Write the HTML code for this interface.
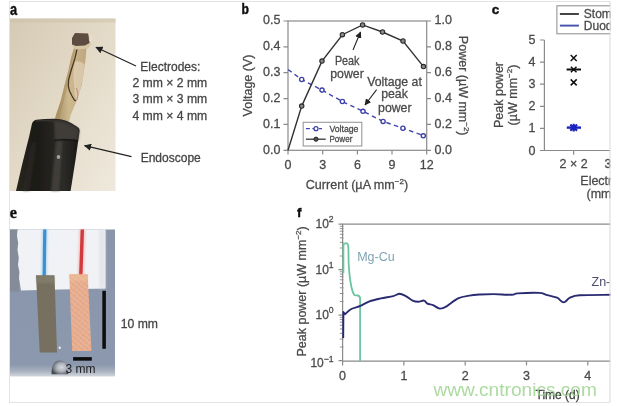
<!DOCTYPE html>
<html><head><meta charset="utf-8"><title>Figure</title>
<style>
html,body{margin:0;padding:0;background:#fff;}
body{width:617px;height:406px;overflow:hidden;position:relative;}
svg{position:absolute;left:0;top:0;display:block;}
text{font-family:"Liberation Sans","DejaVu Sans",sans-serif;}
.tk{stroke:#4a4a4a;stroke-width:0.28px;}
.tk2{stroke:#444;stroke-width:0.28px;}
</style></head><body>
<svg width="617" height="406" viewBox="0 0 617 406">
<defs>
  <linearGradient id="bgA" x1="0" y1="0" x2="1" y2="1">
    <stop offset="0" stop-color="#d5cab4"/>
    <stop offset="0.5" stop-color="#e3dac8"/>
    <stop offset="1" stop-color="#efe9dd"/>
  </linearGradient>
  <linearGradient id="tube" x1="0" y1="0" x2="1" y2="0">
    <stop offset="0" stop-color="#2a2620"/>
    <stop offset="0.3" stop-color="#1c1a17"/>
    <stop offset="0.75" stop-color="#2c2a27"/>
    <stop offset="1" stop-color="#1a1816"/>
  </linearGradient>
  <linearGradient id="stick" x1="0" y1="0" x2="1" y2="0">
    <stop offset="0" stop-color="#a48a62"/>
    <stop offset="0.45" stop-color="#cdb98f"/>
    <stop offset="1" stop-color="#bfa67e"/>
  </linearGradient>
  <linearGradient id="bgE" x1="0" y1="0" x2="0" y2="1">
    <stop offset="0" stop-color="#8a95a9"/>
    <stop offset="0.92" stop-color="#8b98ae"/>
    <stop offset="0.965" stop-color="#a9b2c0"/>
    <stop offset="1" stop-color="#d3d7de"/>
  </linearGradient>
  <radialGradient id="dome" cx="0.6" cy="0.5" r="0.6">
    <stop offset="0" stop-color="#d4d8de"/>
    <stop offset="0.45" stop-color="#b4b9c1"/>
    <stop offset="0.8" stop-color="#767b84"/>
    <stop offset="1" stop-color="#44484e"/>
  </radialGradient>
  <pattern id="copper" width="4" height="4" patternUnits="userSpaceOnUse" patternTransform="rotate(40)">
    <rect width="4" height="4" fill="#e5a98b"/>
    <path d="M0,1 L4,1" stroke="#f0c0a4" stroke-width="0.9" opacity="0.8"/>
    <path d="M1,0 L1,4" stroke="#eab59a" stroke-width="0.9" opacity="0.6"/>
    <circle cx="3" cy="3" r="0.6" fill="#d28c70" opacity="0.6"/>
  </pattern>
  <filter id="gblur" filterUnits="userSpaceOnUse" x="0" y="0" width="617" height="406"><feGaussianBlur stdDeviation="0.42"/></filter>
  <filter id="blur1" filterUnits="userSpaceOnUse" x="0" y="0" width="617" height="406"><feGaussianBlur stdDeviation="0.6"/></filter>
  <filter id="blur2" filterUnits="userSpaceOnUse" x="0" y="0" width="617" height="406"><feGaussianBlur stdDeviation="1.2"/></filter>
  <marker id="ah" viewBox="0 0 10 10" refX="9" refY="5" markerWidth="6" markerHeight="6" orient="auto-start-reverse">
    <path d="M0,0 L10,5 L0,10 z" fill="#222"/>
  </marker>
</defs>
<g filter="url(#gblur)">

<!-- outer frame -->
<rect x="9.5" y="1.5" width="600.5" height="401" fill="#fff" stroke="#e3e3e3" stroke-width="1"/>

<!-- ============ PANEL A ============ -->
<text x="10" y="14.7" font-size="16" font-weight="bold" fill="#111" stroke="#111" stroke-width="0.45" textLength="7.1" lengthAdjust="spacingAndGlyphs">a</text>
<g id="photoA">
  <rect x="10" y="18.5" width="105.5" height="172.5" fill="url(#bgA)"/>
  <rect x="10" y="18.5" width="105.5" height="4" fill="#cbbfa8" opacity="0.45" filter="url(#blur1)"/>
  <!-- stick -->
  <path d="M74,48 L71,58 L68.5,70 L64.6,85 L61,100 L56,115 L54.5,122 L69,122 L70.7,115 L76.9,100 L81.8,85 L84,70 L85.5,60 L86.5,48 Z" fill="url(#stick)" filter="url(#blur1)"/>
  <path d="M74,48 L71,58 L68.5,70 L64.6,85 L61,100 L56,115 L54.5,122 L58,122 L61,112 L64,100 L67,88 L70,75 L73,60 L76,48 Z" fill="#a8905f" opacity="0.6" filter="url(#blur1)"/>
  <path d="M75,62 Q79,60 84.5,64 L83.5,72 Q83,80 80.5,88 Q79,95 76.5,100 Q74,96 74.5,90 Q73,80 73.5,70 Z" fill="#e6dac2" opacity="0.6" filter="url(#blur1)"/>
  <path d="M77,49 L75,58 L72.5,66 L70.7,72 L68.6,80 L68.3,86 L69.5,91 L72,96 L74.4,100 L76,101" stroke="#4a3826" stroke-width="1.3" fill="none" filter="url(#blur1)"/>
  <path d="M76.5,88 L78,94 L77,100" stroke="#b86a58" stroke-width="1.1" fill="none" opacity="0.6" filter="url(#blur1)"/>
  <!-- electrode tip -->
  <path d="M72.5,46 L72,38 L75.5,33.2 L88.5,33.8 L90.5,37 L90.5,45 L88,48.5 L75,49.5 Z" fill="#d6c6a6" filter="url(#blur1)"/>
  <path d="M72,44.5 L72,38 L75,33 L88,33.5 L89.5,37 L89.5,43 L85,45.5 L76,46 Z" fill="#5c4d40" filter="url(#blur1)"/>
  <path d="M88.5,34 L91.5,36 L91.5,42 L89,41 Z" fill="#eee4d2" opacity="0.8" filter="url(#blur1)"/>
  <!-- endoscope -->
  <path d="M36,119.8 Q32.5,120.8 31.8,124.5 L29.2,136.3 L22.1,164.5 L16,191 L70.6,191 L75.7,158.5 L79.6,131 Q80,128.5 77.5,127 Q66,118.5 54,118.8 Q44,119 36.5,119.8 Z" fill="url(#tube)" filter="url(#blur1)"/>
  <path d="M54,120.5 Q68,121 77,127.8 Q79.5,129 79.2,132 L78,140.5 Q66,139 55,140.5 Z" fill="#4a4541" opacity="0.75" filter="url(#blur2)"/>
  <path d="M36,121 Q58,118.5 78,128.5" stroke="#3a3632" stroke-width="1.4" fill="none" opacity="0.8" filter="url(#blur1)"/>
  <path d="M55,140.3 Q67,139 78,141" stroke="#0e0d0c" stroke-width="1.4" fill="none" opacity="0.8" filter="url(#blur1)"/>
  <path d="M56,141 L62.5,141 L59.5,191 L51,191 Z" fill="#4a4642" opacity="0.75" filter="url(#blur2)"/>
  <path d="M31.5,142 L36.5,142 L29.5,191 L22.5,191 Z" fill="#2e2b28" opacity="0.6" filter="url(#blur2)"/>
  <ellipse cx="58.5" cy="157" rx="1.8" ry="2.1" fill="#a8a196" filter="url(#blur1)"/>
</g>
<line x1="136" y1="66" x2="96" y2="47.3" stroke="#222" stroke-width="1.2" marker-end="url(#ah)"/>
<line x1="131.5" y1="156.7" x2="84.6" y2="145.7" stroke="#222" stroke-width="1.2" marker-end="url(#ah)"/>
<g font-size="12.2" fill="#444" class="tk2">
  <text x="140.3" y="71.3" font-size="12">Electrodes:</text>
  <text x="132.4" y="87">2 mm × 2 mm</text>
  <text x="132.4" y="103.3">3 mm × 3 mm</text>
  <text x="132.4" y="119.6">4 mm × 4 mm</text>
  <text x="140.7" y="161.6" font-size="12">Endoscope</text>
</g>

<!-- ============ PANEL B ============ -->
<text x="241.6" y="14.4" font-size="14" font-weight="bold" fill="#111" stroke="#111" stroke-width="0.45" textLength="7.4" lengthAdjust="spacingAndGlyphs">b</text>
<g stroke="#8a8a8a" stroke-width="1.2" fill="none">
  <rect x="288" y="21" width="138.7" height="129.3"/>
  <!-- left ticks -->
  <path d="M283.5,21 H288 M283.5,46.9 H288 M283.5,72.7 H288 M283.5,98.6 H288 M283.5,124.4 H288 M283.5,150.3 H288"/>
  <!-- right ticks -->
  <path d="M426.7,21 H431 M426.7,46.9 H431 M426.7,72.7 H431 M426.7,98.6 H431 M426.7,124.4 H431 M426.7,150.3 H431"/>
  <!-- bottom ticks -->
  <path d="M288,150.3 V154.5 M322.7,150.3 V154.5 M357.4,150.3 V154.5 M392,150.3 V154.5 M426.7,150.3 V154.5"/>
</g>
<g font-size="12.5" fill="#4a4a4a" class="tk" text-anchor="end">
  <text x="280.5" y="24.4">0.5</text>
  <text x="280.5" y="50.3">0.4</text>
  <text x="280.5" y="76.1">0.3</text>
  <text x="280.5" y="102">0.2</text>
  <text x="280.5" y="127.8">0.1</text>
  <text x="280.5" y="153.7">0.0</text>
</g>
<g font-size="12.5" fill="#4a4a4a" class="tk">
  <text x="434.6" y="24.4">1.0</text>
  <text x="434.6" y="50.3">0.8</text>
  <text x="434.6" y="76.1">0.6</text>
  <text x="434.6" y="102">0.4</text>
  <text x="434.6" y="127.8">0.2</text>
  <text x="434.6" y="153.7">0.0</text>
</g>
<g font-size="12.5" fill="#4a4a4a" class="tk" text-anchor="middle">
  <text x="288" y="168.8">0</text>
  <text x="322.7" y="168.8">3</text>
  <text x="357.4" y="168.8">6</text>
  <text x="392" y="168.8">9</text>
  <text x="426.7" y="168.8">12</text>
</g>
<text x="305.7" y="189" font-size="12.6" fill="#4a4a4a" class="tk">Current (µA mm<tspan dy="-5" font-size="8">−2</tspan><tspan dy="5">)</tspan></text>
<text transform="translate(252.2,85.5) rotate(-90)" font-size="12.5" fill="#4a4a4a" class="tk" text-anchor="middle">Voltage (V)</text>
<text transform="translate(459,85.7) rotate(90)" font-size="12.5" fill="#4a4a4a" class="tk" text-anchor="middle">Power (µW mm<tspan dy="-5" font-size="8">−2</tspan><tspan dy="5">)</tspan></text>
<!-- voltage line -->
<polyline points="288,69.5 301.7,79.5 322,90.1 342.4,101.5 363,111.3 383.1,121.4 402.9,128.2 423.5,135.7" fill="none" stroke="#4246b0" stroke-width="1.4" stroke-dasharray="4.5,3.5"/>
<g fill="#fff" stroke="#3a3ea8" stroke-width="1.35">
  <circle cx="301.7" cy="79.5" r="2.1"/><circle cx="322" cy="90.1" r="2.1"/><circle cx="342.4" cy="101.5" r="2.1"/>
  <circle cx="363" cy="111.3" r="2.1"/><circle cx="383.1" cy="121.4" r="2.1"/><circle cx="402.9" cy="128.2" r="2.1"/><circle cx="423.3" cy="135.8" r="2.1"/>
</g>
<!-- power line -->
<polyline points="288,150.3 301.7,106.1 322,61.1 342.4,34.7 362.6,24.9 382.5,32 403,41 423.5,66.6" fill="none" stroke="#333" stroke-width="1.4"/>
<g fill="#8a8a8a" stroke="#2a2a2a" stroke-width="1.1">
  <circle cx="301.7" cy="106.1" r="2.2"/><circle cx="322" cy="61.1" r="2.2"/><circle cx="342.4" cy="34.7" r="2.2"/>
  <circle cx="362.6" cy="24.9" r="2.2"/><circle cx="382.5" cy="32" r="2.2"/><circle cx="403" cy="41" r="2.2"/><circle cx="423.5" cy="66.6" r="2.2"/>
</g>
<!-- annotations -->
<g font-size="12.3" fill="#4a4a4a" class="tk" text-anchor="middle">
  <text x="347.2" y="64.8" textLength="24.6" lengthAdjust="spacingAndGlyphs">Peak</text>
  <text x="347" y="78.4">power</text>
  <text x="394.5" y="85.5">Voltage at</text>
  <text x="394.5" y="98.2">peak</text>
  <text x="394.8" y="111.5">power</text>
</g>
<line x1="353" y1="50" x2="360.5" y2="32" stroke="#222" stroke-width="1.1" marker-end="url(#ah)"/>
<line x1="376.6" y1="89.7" x2="365" y2="105" stroke="#222" stroke-width="1.1" marker-end="url(#ah)"/>
<!-- legend -->
<rect x="303.2" y="122.3" width="58.6" height="23.7" fill="#fff" stroke="#999" stroke-width="1.1"/>
<line x1="305.9" y1="128.7" x2="322" y2="128.7" stroke="#4246b0" stroke-width="1.3" stroke-dasharray="4,2.5"/>
<circle cx="316" cy="128.7" r="2" fill="#fff" stroke="#3a3ea8" stroke-width="1.2"/>
<line x1="305.9" y1="139.2" x2="325.7" y2="139.2" stroke="#333" stroke-width="1.3"/>
<circle cx="316" cy="139.2" r="2.1" fill="#555" stroke="#222" stroke-width="1"/>
<g font-size="9" fill="#4a4a4a" class="tk">
  <text x="329.4" y="132.4" textLength="29" lengthAdjust="spacingAndGlyphs">Voltage</text>
  <text x="329.4" y="142.1" textLength="23" lengthAdjust="spacingAndGlyphs">Power</text>
</g>

<!-- ============ PANEL C ============ -->
<text x="491.8" y="14.2" font-size="13.5" font-weight="bold" fill="#111" stroke="#111" stroke-width="0.45">c</text>
<g stroke="#8a8a8a" stroke-width="1.2" fill="none">
  <path d="M544.4,40 V150.5 H611"/>
  <path d="M540,40 H544.4 M540,62.1 H544.4 M540,84.2 H544.4 M540,106.3 H544.4 M540,128.4 H544.4 M540,150.5 H544.4"/>
  <path d="M573.7,150.5 V154.7"/>
</g>
<g font-size="12.5" fill="#4a4a4a" class="tk" text-anchor="middle">
  <text x="532" y="43.9">5</text>
  <text x="532" y="66">4</text>
  <text x="532" y="88.1">3</text>
  <text x="532" y="110.2">2</text>
  <text x="532" y="132.3">1</text>
  <text x="532" y="155">0</text>
  <text x="573.7" y="168">2 × 2</text>
  <text x="608" y="168">3</text>
</g>
<g font-size="12.5" fill="#4a4a4a" class="tk">
  <text x="580.3" y="185.2">Electr</text>
  <text x="586.5" y="198">(mm</text>
</g>
<text transform="translate(502.8,95) rotate(-90)" font-size="12.5" fill="#4a4a4a" class="tk" text-anchor="middle">Peak power</text>
<text transform="translate(517,95) rotate(-90)" font-size="12.5" fill="#4a4a4a" class="tk" text-anchor="middle">(µW mm<tspan dy="-5" font-size="8">−2</tspan><tspan dy="5">)</tspan></text>
<!-- markers -->
<g stroke="#111" stroke-width="1.5" fill="none">
  <path d="M570.7,55 L576.7,61 M576.7,55 L570.7,61"/>
  <path d="M570.7,79.4 L576.7,85.4 M576.7,79.4 L570.7,85.4"/>
  <path d="M570.9,66.8 L576.5,72.2 M576.5,66.8 L570.9,72.2"/><path d="M566.6,69.5 H581" stroke-width="2"/>
</g>
<g stroke="#1a24c0" stroke-width="2.1" fill="none">
  <path d="M570.3,124.6 L577.1,130.6 M577.1,124.6 L570.3,130.6 M573.7,123.8 V131.4"/>
  <path d="M566.8,127.6 H581" stroke-width="2.4"/>
</g>
<!-- legend c -->
<rect x="556.9" y="5.8" width="60" height="28" fill="#fff" stroke="#8a8a8a" stroke-width="1"/>
<line x1="559.9" y1="14" x2="578.9" y2="14" stroke="#3c3c3c" stroke-width="1.9"/>
<line x1="559.9" y1="25.6" x2="578.9" y2="25.6" stroke="#4450b0" stroke-width="1.9"/>
<g font-size="12" fill="#4a4a4a" class="tk">
  <text x="583.8" y="18.3">Stomach</text>
  <text x="583.8" y="29.8">Duodenum</text>
</g>

<!-- ============ PANEL E ============ -->
<text x="9.8" y="217.9" font-size="16" font-weight="bold" fill="#111" stroke="#111" stroke-width="0.4" style="font-family:'Liberation Serif',serif">e</text>
<g id="photoE">
  <rect x="10" y="229.5" width="105" height="147" fill="url(#bgE)"/>
  <rect x="10" y="229.5" width="9" height="62" fill="#848b99" filter="url(#blur1)"/>
  <!-- gauze -->
  <path d="M17.5,229.5 L105.5,229.5 L105.5,288.5 L60,289.5 L21,290.5 L20,284 L19,278 L19.5,272 L18,265 L18.8,258 L17.5,250 L18.2,243 L17,236 Z" fill="#f1f2f5" filter="url(#blur1)"/>
  <path d="M99,230 L105.5,230 L105.5,288.5 L99,288.5 Z" fill="#dcdfe6" opacity="0.6" filter="url(#blur2)"/>
  <!-- wires -->
  <path d="M44.8,229.5 L44.5,250 L44.2,276" stroke="#8cc8ec" stroke-width="5.5" fill="none" opacity="0.6" filter="url(#blur2)"/>
  <path d="M44.8,229.5 L44.5,250 L44.2,276" stroke="#3a8fd2" stroke-width="3.2" fill="none" filter="url(#blur1)"/>
  <path d="M82.3,229.5 L81.6,252 L80.8,275" stroke="#eea0a0" stroke-width="6" fill="none" opacity="0.55" filter="url(#blur2)"/>
  <path d="M82.3,229.5 L81.6,252 L80.8,275" stroke="#d23a3a" stroke-width="3.4" fill="none" filter="url(#blur1)"/>
  <!-- strips -->
  <path d="M36,275.3 L54.5,275.3 L57,352.4 L39.7,352.4 Z" fill="#777060" filter="url(#blur1)"/>
  <path d="M36.5,276 L54,276 L54.2,283 L37,283 Z" fill="#8f8a7a" opacity="0.45" filter="url(#blur2)"/>
  <path d="M69.3,274.3 L87.7,274.3 L91.4,351 L72.2,351 Z" fill="url(#copper)" filter="url(#blur1)"/>
  <path d="M69.5,274.5 L87.5,274.5 L87.9,281 L69.8,281 Z" fill="#f0c49a" opacity="0.5" filter="url(#blur2)"/>
  <!-- scale bars -->
  <rect x="102.3" y="290.8" width="3.6" height="58" fill="#111" filter="url(#blur1)"/>
  <rect x="73.1" y="357.1" width="18.7" height="3.6" fill="#111" filter="url(#blur1)"/>
  <circle cx="59.7" cy="347.7" r="1.2" fill="#e8ecf0" filter="url(#blur1)"/>
  <!-- droplet -->
  <path d="M51.5,374.2 Q51.5,360.6 60,360.6 Q68.2,360.6 68.2,374.2 Z" fill="url(#dome)" filter="url(#blur1)"/>
  <text x="65.4" y="373.3" font-size="12" fill="#222">3 mm</text>
</g>
<text x="120.7" y="327.8" font-size="12.2" fill="#444" class="tk2">10 mm</text>

<!-- ============ PANEL F ============ -->
<text x="297" y="216.8" font-size="13" font-weight="bold" fill="#111" stroke="#111" stroke-width="0.45">f</text>
<g stroke="#8a8a8a" stroke-width="1.2" fill="none">
  <path d="M611,224.2 H342.6 V361.2 H611"/>
  <path d="M338.5,224.2 H342.6 M338.5,269.7 H342.6 M338.5,315.2 H342.6 M338.5,360.7 H342.6"/>
  <path d="M342.6,361.2 V365.5 M403.9,361.2 V365.5 M465.2,361.2 V365.5 M526.5,361.2 V365.5 M587.8,361.2 V365.5"/>
</g>
<g id="minor" stroke="#8a8a8a" stroke-width="0.9" fill="none"><path d="M339.8,256.0 H343.6 M339.8,248.0 H343.6 M339.8,242.3 H343.6 M339.8,237.9 H343.6 M339.8,234.3 H343.6 M339.8,231.2 H343.6 M339.8,228.6 H343.6 M339.8,226.3 H343.6 M339.8,301.5 H343.6 M339.8,293.5 H343.6 M339.8,287.8 H343.6 M339.8,283.4 H343.6 M339.8,279.8 H343.6 M339.8,276.7 H343.6 M339.8,274.1 H343.6 M339.8,271.8 H343.6 M339.8,347.0 H343.6 M339.8,339.0 H343.6 M339.8,333.3 H343.6 M339.8,328.9 H343.6 M339.8,325.3 H343.6 M339.8,322.2 H343.6 M339.8,319.6 H343.6 M339.8,317.3 H343.6"/></g>
<g font-size="12" fill="#4a4a4a" class="tk" text-anchor="end">
  <text x="333.6" y="228">10<tspan dy="-5.6" font-size="8.6">2</tspan></text>
  <text x="333.6" y="273.5">10<tspan dy="-5.6" font-size="8.6">1</tspan></text>
  <text x="333.6" y="319">10<tspan dy="-5.6" font-size="8.6">0</tspan></text>
  <text x="333.6" y="367.3">10<tspan dy="-5.6" font-size="8.6">−1</tspan></text>
</g>
<g font-size="12.5" fill="#4a4a4a" class="tk" text-anchor="middle">
  <text x="342.6" y="380">0</text>
  <text x="403.9" y="380">1</text>
  <text x="465.2" y="380">2</text>
  <text x="526.5" y="380">3</text>
  <text x="587.8" y="380">4</text>
</g>
<text transform="translate(305.5,291.4) rotate(-90)" font-size="12.5" fill="#4a4a4a" class="tk" text-anchor="middle">Peak power (µW mm<tspan dy="-5" font-size="8">−2</tspan><tspan dy="5">)</tspan></text>
<text x="357.2" y="260.5" font-size="12.5" fill="#7fa3b4">Mg-Cu</text>
<text x="591.5" y="286" font-size="12.5" fill="#4d4d70">Zn-Cu</text>
<!-- green -->
<path d="M343.4,273 L343.4,245.5 Q343.5,243.3 345.5,243.3 L346.8,243.4 Q348.3,243.8 348.4,248 L348.6,262 Q349.2,274 350.5,282 Q352,292 354.5,295.2 L357.8,295.5 Q360,295.8 360.1,299 L360.1,361" fill="none" stroke="#6cc4a0" stroke-width="1.8" stroke-linejoin="round"/>
<!-- navy -->
<path d="M343.2,338 L343.4,312 L345,314.2 C346.1,313.3 348.7,310.4 351.3,309.0 C353.9,307.6 357.4,307.2 360.4,305.9 C363.4,304.6 366.1,302.6 369.5,301.3 C372.9,300.1 376.8,299.3 380.8,298.4 C384.8,297.5 390.2,296.9 393.3,296.1 C396.4,295.3 397.4,293.8 399.5,293.8 C401.6,293.8 403.6,295.0 405.8,296.1 C408.0,297.2 410.5,299.7 412.6,300.6 C414.7,301.6 416.4,301.8 418.3,301.8 C420.2,301.8 422.5,300.3 424.0,300.6 C425.5,300.9 425.9,302.8 427.4,303.6 C428.9,304.4 430.9,304.4 433.0,305.2 C435.1,306.0 437.5,308.4 439.8,308.6 C442.1,308.8 443.6,308.0 446.6,306.3 C449.6,304.6 454.2,300.2 458.0,298.4 C461.8,296.6 465.6,296.2 469.3,295.6 C473.0,295.0 475.9,294.8 480.0,294.5 C484.1,294.2 488.5,294.1 493.8,294.1 C499.1,294.2 507.7,294.9 511.7,294.8 C515.7,294.7 513.1,293.7 517.7,293.4 C522.3,293.1 534.4,292.7 539.1,292.9 C543.9,293.1 543.2,294.0 546.2,294.8 C549.2,295.6 554.1,296.4 557.0,297.7 C559.9,299.0 561.4,302.4 563.6,302.4 C565.8,302.4 567.3,298.9 570.0,297.7 C572.7,296.5 572.8,295.8 579.6,295.3 C586.4,294.8 605.8,294.9 611.0,294.8" fill="none" stroke="#2b2b72" stroke-width="1.9" stroke-linejoin="round"/>
<text x="535.5" y="398.8" font-size="12" fill="#444" class="tk2">Time (d)</text>

<!-- watermark -->
<text x="433.4" y="395.8" font-size="19.2" fill="#9dd48f" fill-opacity="0.85" textLength="163.5" lengthAdjust="spacingAndGlyphs">www.cntronics.com</text>

<!-- white mask right of frame -->
<rect x="610.5" y="0" width="7" height="406" fill="#fff"/>
<line x1="610" y1="1.5" x2="610" y2="402.5" stroke="#e3e3e3" stroke-width="1"/>
</g>
</svg>
</body></html>
